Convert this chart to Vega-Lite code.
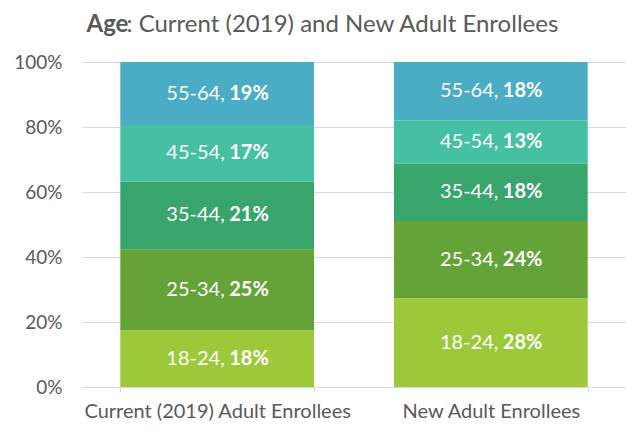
{
  "$schema": "https://vega.github.io/schema/vega-lite/v6.json",
  "width": 544,
  "height": 325,
  "autosize": "none",
  "padding": {"left": 82, "top": 62, "right": 0, "bottom": 44},
  "background": "white",
  "config": {
    "font": "Lato",
    "view": {"stroke": null}
  },
  "data": {
    "values": [
      {"group": "Current (2019) Adult Enrollees", "age": "18-24", "rank": 1, "value": 17.4, "pct": "18%"},
      {"group": "Current (2019) Adult Enrollees", "age": "25-34", "rank": 2, "value": 25.0, "pct": "25%"},
      {"group": "Current (2019) Adult Enrollees", "age": "35-44", "rank": 3, "value": 20.8, "pct": "21%"},
      {"group": "Current (2019) Adult Enrollees", "age": "45-54", "rank": 4, "value": 17.4, "pct": "17%"},
      {"group": "Current (2019) Adult Enrollees", "age": "55-64", "rank": 5, "value": 19.4, "pct": "19%"},
      {"group": "New Adult Enrollees", "age": "18-24", "rank": 1, "value": 27.3, "pct": "28%"},
      {"group": "New Adult Enrollees", "age": "25-34", "rank": 2, "value": 23.8, "pct": "24%"},
      {"group": "New Adult Enrollees", "age": "35-44", "rank": 3, "value": 17.6, "pct": "18%"},
      {"group": "New Adult Enrollees", "age": "45-54", "rank": 4, "value": 13.3, "pct": "13%"},
      {"group": "New Adult Enrollees", "age": "55-64", "rank": 5, "value": 18.0, "pct": "18%"}
    ]
  },
  "encoding": {
    "x": {
      "field": "group",
      "type": "nominal",
      "sort": null,
      "scale": {"paddingInner": 0.292, "paddingOuter": 0.14},
      "axis": {
        "labelAngle": 0,
        "labelFontSize": 20,
        "labelLimit": 0,
        "labelColor": "#595959",
        "labelPadding": 9,
        "domainColor": "#D9D9D9",
        "tickColor": "#D9D9D9",
        "tickBand": "extent",
        "tickSize": 5,
        "title": "Age",
        "titleFontSize": 24,
        "titleFontWeight": "bold",
        "titleColor": "#595959",
        "titleAlign": "left",
        "titleBaseline": "alphabetic",
        "titleAnchor": "start",
        "titleX": 4,
        "titleY": -356
      }
    },
    "y": {
      "field": "value",
      "type": "quantitative",
      "stack": "normalize",
      "scale": {"domain": [0, 1]},
      "axis": {
        "values": [0, 0.2, 0.4, 0.6, 0.8, 1],
        "format": ".0%",
        "domain": false,
        "ticks": false,
        "labelPadding": 20,
        "labelFontSize": 19,
        "labelColor": "#595959",
        "gridColor": "#D9D9D9",
        "title": ": Current (2019) and New Adult Enrollees",
        "titleAngle": 0,
        "titleFontSize": 24,
        "titleFontWeight": "normal",
        "titleColor": "#595959",
        "titleAlign": "left",
        "titleBaseline": "alphabetic",
        "titleX": 44,
        "titleY": -31
      }
    },
    "order": {"field": "rank", "type": "quantitative"}
  },
  "layer": [
    {
      "mark": {"type": "bar"},
      "encoding": {
        "color": {
          "field": "age",
          "type": "nominal",
          "legend": null,
          "scale": {
            "domain": ["18-24", "25-34", "35-44", "45-54", "55-64"],
            "range": ["#9BC93A", "#64A338", "#38A56D", "#45C0A2", "#4BACC6"]
          }
        }
      }
    },
    {
      "mark": {"type": "text", "align": "right", "baseline": "middle", "dx": 3, "fontSize": 20, "color": "white"},
      "encoding": {
        "y": {"field": "value", "type": "quantitative", "stack": "normalize", "bandPosition": 0.5},
        "text": {"field": "age"}
      }
    },
    {
      "mark": {"type": "text", "align": "left", "baseline": "middle", "dx": 3, "fontSize": 20, "color": "white", "text": ","},
      "encoding": {
        "y": {"field": "value", "type": "quantitative", "stack": "normalize", "bandPosition": 0.5}
      }
    },
    {
      "mark": {"type": "text", "align": "left", "baseline": "middle", "dx": 12, "fontSize": 20, "fontWeight": "bold", "color": "white"},
      "encoding": {
        "y": {"field": "value", "type": "quantitative", "stack": "normalize", "bandPosition": 0.5},
        "text": {"field": "pct"}
      }
    }
  ]
}
